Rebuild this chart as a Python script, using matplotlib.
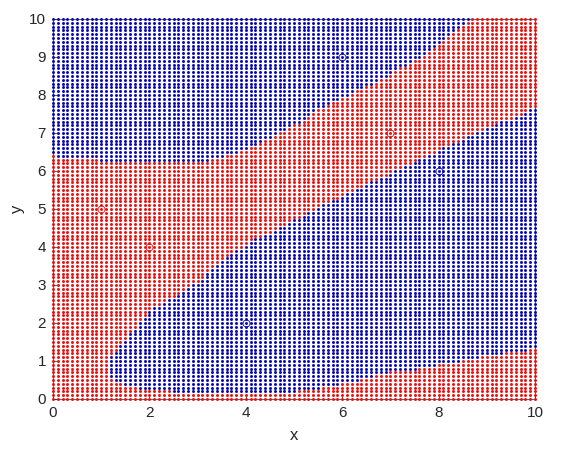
import numpy as np
import matplotlib
matplotlib.use("Agg")
import matplotlib.pyplot as plt
from matplotlib.path import Path

# Training points
train_x = [1, 2, 4, 6, 7, 8]
train_y = [5, 4, 2, 9, 7, 6]
train_cls = ["r", "r", "b", "b", "r", "b"]

# Grid of evaluated points
grid_vals = np.round(np.arange(0, 10.0001, 0.1), 1)

# Decision region outlines (blue class regions)
top_blue_x = [-0.1, -0.1, 1.0, 2.0, 2.5, 3.0, 3.4, 3.8, 4.2, 4.6, 5.06, 5.75, 6.43, 7.14, 7.7, 8.03, 8.44, 8.8, -0.1]
top_blue_y = [10.1, 6.42, 6.29, 6.22, 6.21, 6.25, 6.33, 6.48, 6.68, 6.93, 7.26, 7.8, 8.18, 8.66, 9.05, 9.4, 9.76, 10.1, 10.1]

mid_blue_x = [1.13, 1.13, 1.2, 1.53, 2.01, 2.6, 3.05, 3.32, 4.02, 4.71, 5.39, 6.1, 6.5, 7.0, 7.5, 8.0,
              8.5, 9.0, 9.5, 10.1, 10.1, 9.0, 8.0, 7.0, 6.5, 6.0, 5.5, 4.8, 3.0, 2.0, 1.5, 1.3, 1.13]
mid_blue_y = [0.6, 1.0, 1.15, 1.63, 2.34, 2.75, 3.13, 3.47, 4.1, 4.53, 4.97, 5.42, 5.65, 5.95, 6.25, 6.55,
              6.85, 7.15, 7.4, 7.7, 1.35, 1.13, 0.9, 0.7, 0.55, 0.4, 0.28, 0.16, 0.14, 0.24, 0.35, 0.45, 0.6]

GX, GY = np.meshgrid(grid_vals, grid_vals)
pts = np.column_stack([GX.ravel(), GY.ravel()])
p_top = Path(np.column_stack([top_blue_x, top_blue_y]))
p_mid = Path(np.column_stack([mid_blue_x, mid_blue_y]))
is_blue = p_top.contains_points(pts) | p_mid.contains_points(pts)

plt.rcParams['font.family'] = ['Liberation Sans', 'DejaVu Sans']
fig = plt.figure(figsize=(5.84, 4.59), dpi=100)
ax = fig.add_axes([53/584, 60/459, 482/584, 380/459])

RED = "#e81010"
BLUE = "#0a0ab4"
ax.scatter(pts[~is_blue, 0], pts[~is_blue, 1], s=4.6, c=RED, marker='o', linewidths=0, clip_on=False, zorder=3)
ax.scatter(pts[is_blue, 0], pts[is_blue, 1], s=4.6, c=BLUE, marker='o', linewidths=0, clip_on=False, zorder=3)

for x, y, c in zip(train_x, train_y, train_cls):
    col = RED if c == "r" else BLUE
    ax.plot(x, y, 'o', mfc='none', mec=col, ms=5, mew=0.6, zorder=4)

ax.set_xlim(0, 10)
ax.set_ylim(0, 10)
ax.set_xticks(range(0, 11, 2))
ax.set_yticks(range(0, 11, 1))
ax.tick_params(direction='in', labelsize=11, colors='#262626', length=3, width=0.5, pad=5)
for s in ax.spines.values():
    s.set_color('#262626')
    s.set_linewidth(0.5)
ax.set_xlabel('x', fontsize=12, color='#262626', labelpad=6)
ax.set_ylabel('y', fontsize=12, color='#262626', labelpad=3)
fig.savefig("out.png", dpi=100)
